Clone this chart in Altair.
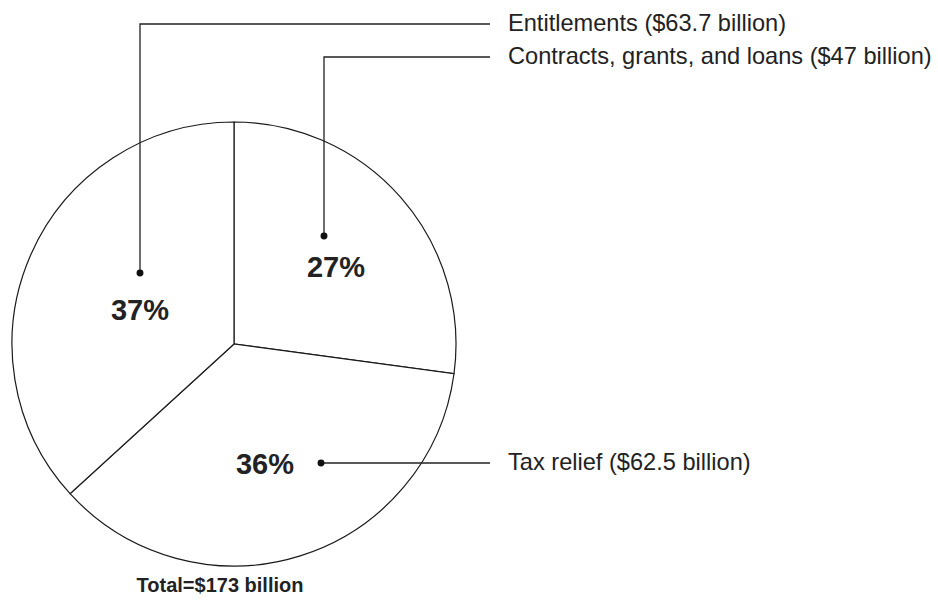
import altair as alt
import pandas as pd

# ---- data ----
categories = ["Contracts, grants, and loans", "Tax relief", "Entitlements"]
values_bn = [47, 62.5, 63.7]
value_text = ["$47 billion", "$62.5 billion", "$63.7 billion"]
total_label = "Total=$173 billion"

# ---- layout (pixels) ----
W, H = 938, 602
CX, CY, R = 234, 344, 222
pct_x = [336, 265, 140]
pct_y = [268, 465, 311]
dot_x = [324, 321, 140]
dot_y = [236, 463, 273]
label_y = [57, 463, 24]
LINE_END = 490
TEXT_X = 508

total = sum(values_bn)
pie_df = pd.DataFrame({
    "category": categories,
    "value": values_bn,
    "ord": list(range(len(categories))),
    "pct": [f"{round(v / total * 100)}%" for v in values_bn],
    "px": pct_x,
    "py": pct_y,
    "label": [f"{c} ({t})" for c, t in zip(categories, value_text)],
    "ly": label_y,
    "dx": dot_x,
    "dy": dot_y,
})

rows = []
for i in range(len(categories)):
    pts = [(dot_x[i], dot_y[i])]
    if dot_y[i] != label_y[i]:
        pts.append((dot_x[i], label_y[i]))
    pts.append((LINE_END, label_y[i]))
    for k, (x, y) in enumerate(pts):
        rows.append({"g": i, "k": k, "x": x, "y": y})
line_df = pd.DataFrame(rows)

xs = alt.Scale(domain=[0, W], nice=False, zero=False)
ys = alt.Scale(domain=[0, H], nice=False, zero=False, reverse=True)

FONT = "Liberation Sans"

pie = alt.Chart(pie_df).mark_arc(
    radius=R, fill="white", stroke="#1a1a1a", strokeWidth=1.2
).encode(
    theta=alt.Theta("value:Q", stack=True),
    order=alt.Order("ord:Q"),
    x=alt.value(CX),
    y=alt.value(CY),
)

pct = alt.Chart(pie_df).mark_text(
    font=FONT, fontSize=29, fontWeight="bold", color="#222222",
    align="center", baseline="middle"
).encode(
    x=alt.X("px:Q", scale=xs, axis=None),
    y=alt.Y("py:Q", scale=ys, axis=None),
    text="pct:N",
)

lines = alt.Chart(line_df).mark_line(color="#222222", strokeWidth=1.3).encode(
    x=alt.X("x:Q", scale=xs, axis=None),
    y=alt.Y("y:Q", scale=ys, axis=None),
    detail="g:N",
    order="k:Q",
)

dots = alt.Chart(pie_df).mark_circle(color="#111111", opacity=1, size=48).encode(
    x=alt.X("dx:Q", scale=xs, axis=None),
    y=alt.Y("dy:Q", scale=ys, axis=None),
)

labels = alt.Chart(pie_df).mark_text(
    font=FONT, fontSize=23.6, color="#222222", align="left", baseline="middle"
).encode(
    x=alt.value(TEXT_X),
    y=alt.Y("ly:Q", scale=ys, axis=None),
    text="label:N",
)

total_df = pd.DataFrame({"t": [total_label]})
total_text = alt.Chart(total_df).mark_text(
    font=FONT, fontSize=20, fontWeight="bold", color="#222222",
    align="center", baseline="middle"
).encode(
    x=alt.value(220),
    y=alt.value(586),
    text="t:N",
)

chart = alt.layer(pie, lines, dots, pct, labels, total_text).properties(
    width=W, height=H,
    autosize=alt.AutoSizeParams(type="none"),
    padding=0,
    background="white",
).configure_view(stroke=None)

chart.save("out.html", embed_options={"renderer": "svg", "actions": False})
